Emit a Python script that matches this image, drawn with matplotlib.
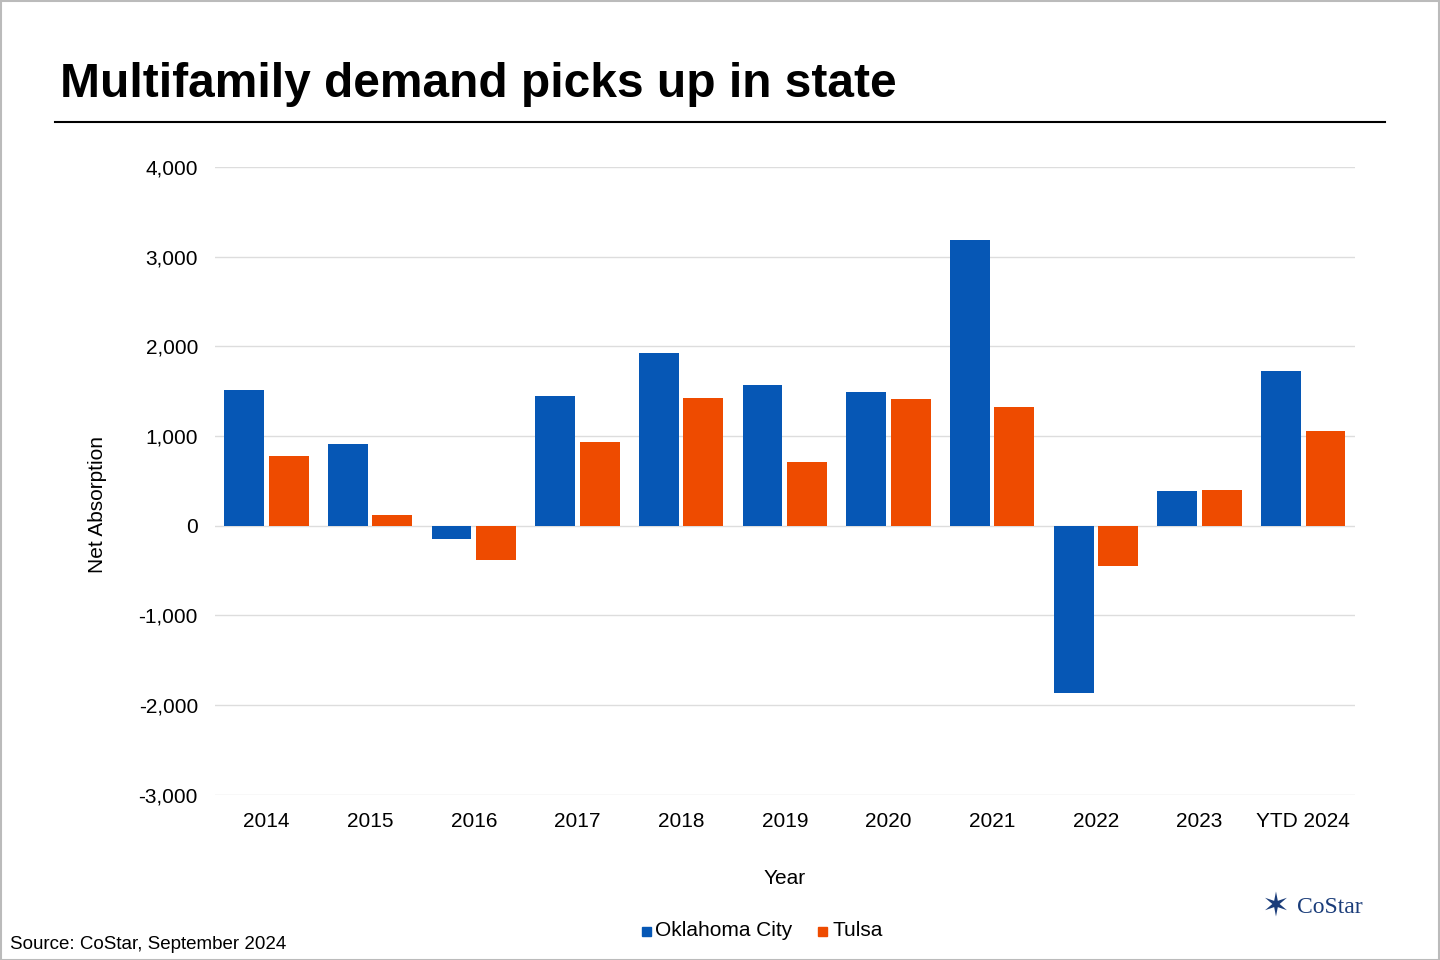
import matplotlib
matplotlib.use("Agg")
import matplotlib.pyplot as plt
from matplotlib.lines import Line2D
from matplotlib.patches import Rectangle
import numpy as np

plt.rcParams['font.family'] = ['Liberation Sans', 'DejaVu Sans']

years = ['2014', '2015', '2016', '2017', '2018', '2019', '2020', '2021', '2022', '2023', 'YTD 2024']
okc = [1515, 914, -145, 1448, 1928, 1571, 1493, 3187, -1861, 390, 1727]
tulsa = [780, 123, -379, 936, 1426, 713, 1415, 1326, -446, 401, 1058]

BLUE = '#0657B5'
ORANGE = '#EE4B00'

fig = plt.figure(figsize=(14.4, 9.6), dpi=100)
ax = fig.add_axes([0.149, 0.172, 0.792, 0.654])

x = np.arange(len(years))
w = 0.385
ax.bar(x - 0.215, okc, w, color=BLUE, zorder=3)
ax.bar(x + 0.215, tulsa, w, color=ORANGE, zorder=3)

ax.set_xlim(-0.5, len(years) - 0.5)
ax.set_ylim(-3000, 4000)
ax.set_yticks(range(-3000, 4001, 1000))
ax.set_yticklabels(['{:,}'.format(v) for v in range(-3000, 4001, 1000)])
ax.set_xticks(x)
ax.set_xticklabels(years)
ax.tick_params(length=0, labelsize=15, pad=12)
ax.grid(axis='y', color='#dddddd', lw=1, zorder=0)
for s in ax.spines.values():
    s.set_visible(False)
ax.set_ylabel('Net Absorption', fontsize=15)
ax.yaxis.set_label_coords(-0.094, 0.462)
ax.set_xlabel('Year', fontsize=15, labelpad=28)

fig.text(0.042, 0.912, 'Multifamily demand picks up in state', fontsize=34.5, fontweight='bold', va='center')
fig.add_artist(Line2D([0.038, 0.962], [0.873, 0.873], color='black', lw=1.5))
fig.add_artist(Rectangle((0.0005, 0.0005), 0.999, 0.998, fill=False, ec='#bbbbbb', lw=1.5))

fig.text(0.007, 0.016, 'Source: CoStar, September 2024', fontsize=13.5, va='center')

# legend
fig.add_artist(Rectangle((0.4455, 0.025), 0.0065, 0.0095, color=BLUE))
fig.text(0.455, 0.031, 'Oklahoma City', fontsize=15, va='center')
fig.add_artist(Rectangle((0.568, 0.025), 0.0065, 0.0095, color=ORANGE))
fig.text(0.578, 0.031, 'Tulsa', fontsize=15, va='center')

# logo
fig.text(0.886, 0.055, '\u2736', fontsize=24, color='#1b3d7a', va='center', ha='center')
fig.text(0.901, 0.055, 'CoStar', fontsize=17, family='Liberation Serif', color='#1b3d7a', va='center')

fig.savefig('out.png', dpi=100)
